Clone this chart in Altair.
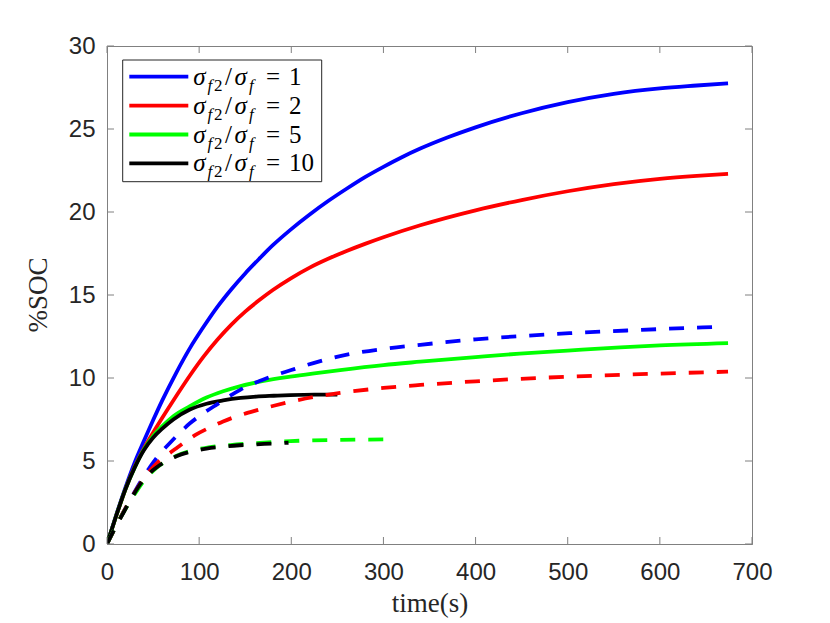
import altair as alt
import pandas as pd

# ---------------- data ----------------
RATIOS = ["1", "2", "5", "10"]
COLORS = ["#0000ff", "#ff0000", "#00ff00", "#000000"]

# solid curves
T_S1 = [0, 10, 20, 30, 40, 50, 60, 75, 90, 105, 120, 135, 150, 165, 180, 200, 220, 240, 260, 280, 300, 320, 340, 370, 400, 450, 500, 550, 600, 640, 674]
V_S1 = [0, 1.75, 3.4, 4.9, 6.2, 7.45, 8.65, 10.3, 11.8, 13.1, 14.3, 15.35, 16.3, 17.17, 18.0, 18.97, 19.85, 20.66, 21.4, 22.1, 22.72, 23.3, 23.82, 24.5, 25.1, 25.95, 26.62, 27.12, 27.45, 27.62, 27.75]

T_S2 = [0, 10, 20, 30, 40, 50, 60, 75, 90, 105, 120, 135, 150, 165, 180, 200, 220, 240, 260, 280, 300, 340, 400, 450, 500, 550, 600, 640, 674]
V_S2 = [0, 1.7, 3.3, 4.65, 5.75, 6.7, 7.6, 8.9, 10.15, 11.3, 12.32, 13.22, 14.0, 14.68, 15.3, 16.02, 16.65, 17.18, 17.65, 18.08, 18.48, 19.2, 20.1, 20.72, 21.25, 21.68, 22.0, 22.18, 22.3]

T_S5 = [0, 10, 20, 30, 40, 50, 60, 72, 90, 108, 126, 144, 170, 199, 225, 253, 300, 340, 400, 448, 500, 557, 600, 674]
V_S5 = [0, 1.7, 3.3, 4.6, 5.7, 6.5, 7.1, 7.7, 8.3, 8.82, 9.2, 9.5, 9.82, 10.08, 10.28, 10.48, 10.78, 10.98, 11.26, 11.47, 11.65, 11.84, 11.96, 12.1]

T_S10 = [0, 10, 20, 30, 40, 50, 60, 72, 90, 108, 126, 145, 162, 181, 199, 225, 250]
V_S10 = [0, 1.7, 3.3, 4.6, 5.65, 6.4, 6.95, 7.5, 8.1, 8.45, 8.65, 8.8, 8.88, 8.93, 8.97, 9.0, 9.0]

# dashed curves
T_D1 = [0, 10, 20, 29, 38, 47, 57, 68, 79, 90, 104, 119, 145, 174, 200, 224, 253, 300, 340, 400, 448, 502, 580, 667]
V_D1 = [0, 1.1, 2.15, 3.05, 3.9, 4.66, 5.4, 6.07, 6.7, 7.27, 7.85, 8.4, 9.3, 10.0, 10.48, 10.9, 11.32, 11.75, 12.0, 12.33, 12.52, 12.7, 12.9, 13.09]

T_D2 = [0, 10, 20, 30, 40, 47, 54, 65, 76, 86, 97, 111, 126, 137, 162, 181, 200, 224, 253, 300, 340, 400, 448, 502, 590, 674]
V_D2 = [0, 1.1, 2.15, 3.1, 3.95, 4.45, 4.86, 5.35, 5.8, 6.2, 6.6, 7.0, 7.38, 7.62, 8.05, 8.33, 8.58, 8.85, 9.1, 9.4, 9.58, 9.8, 9.95, 10.08, 10.25, 10.38]

T_D5 = [0, 10, 20, 30, 40, 50, 60, 75, 90, 110, 134, 160, 199, 250, 304]
V_D5 = [0, 1.1, 2.1, 3.0, 3.8, 4.4, 4.85, 5.3, 5.6, 5.82, 5.96, 6.07, 6.2, 6.27, 6.3]

T_D10 = [0, 10, 18, 27, 36, 45, 54, 65, 76, 90, 108, 126, 144, 162, 181, 197]
V_D10 = [0, 1.1, 1.9, 2.8, 3.6, 4.2, 4.62, 5.0, 5.3, 5.55, 5.75, 5.87, 5.95, 6.0, 6.06, 6.1]

X_TICKS = [0, 100, 200, 300, 400, 500, 600, 700]
Y_TICKS = [0, 5, 10, 15, 20, 25, 30]
X_TITLE = "time(s)"
Y_TITLE = "%SOC"

# ---------------- layout / style ----------------
W, H = 645, 498
AXIS_GRAY = "#808080"
TEXT_COL = "#262626"
LW = 3.8
DASH = [15, 13]
TICK_LEN = 7
SERIF = "Liberation Serif"

solids = [(T_S1, V_S1), (T_S2, V_S2), (T_S5, V_S5), (T_S10, V_S10)]
dashes = [(T_D1, V_D1), (T_D2, V_D2), (T_D5, V_D5), (T_D10, V_D10)]

rows = []
for style, group in (("solid", solids), ("dashed", dashes)):
    for r, (ts, vs) in zip(RATIOS, group):
        for t, v in zip(ts, vs):
            rows.append({"ratio": r, "style": style, "t": t, "v": v})
df = pd.DataFrame(rows)

x_axis = alt.Axis(
    values=X_TICKS, ticks=False, tickSize=0, grid=False,
    domainColor=AXIS_GRAY, domainWidth=1,
    labelFont="Liberation Sans", labelFontSize=24, labelColor=TEXT_COL,
    labelPadding=16, labelFlush=False, labelOverlap=False,
    title=X_TITLE, titleFont=SERIF, titleFontSize=27,
    titleFontWeight="normal", titleColor=TEXT_COL,
    titleBaseline="alphabetic", titleY=67,
)
y_axis = alt.Axis(
    values=Y_TICKS, ticks=False, tickSize=0, grid=False,
    domainColor=AXIS_GRAY, domainWidth=1,
    labelFont="Liberation Sans", labelFontSize=24, labelColor=TEXT_COL,
    labelPadding=12, labelFlush=False, labelOverlap=False,
    title=None,
)
xs = alt.Scale(domain=[0, 700], nice=False, zero=False)
ys = alt.Scale(domain=[0, 30], nice=False, zero=False)
X = alt.X("t:Q", scale=xs, axis=x_axis)
Y = alt.Y("v:Q", scale=ys, axis=y_axis)

base = alt.Chart(df)
layers = []
for style in ("solid", "dashed"):
    for r, c in zip(RATIOS, COLORS):
        mk = {"strokeWidth": LW, "color": c, "clip": True, "interpolate": "monotone"}
        if style == "dashed":
            mk["strokeDash"] = DASH
        layers.append(
            base.transform_filter(
                (alt.datum.ratio == r) & (alt.datum.style == style)
            ).mark_line(**mk).encode(x=X, y=Y, order="t:Q")
        )

# inward ticks on all four sides (MATLAB box style)
xt = alt.Chart(pd.DataFrame({"t": X_TICKS}))
yt = alt.Chart(pd.DataFrame({"v": Y_TICKS}))
tick_kw = {"color": AXIS_GRAY, "strokeWidth": 1}
layers += [
    xt.mark_rule(**tick_kw).encode(x=X, y=alt.value(H), y2=alt.value(H - TICK_LEN)),
    xt.mark_rule(**tick_kw).encode(x=X, y=alt.value(0), y2=alt.value(TICK_LEN)),
    yt.mark_rule(**tick_kw).encode(y=Y, x=alt.value(0), x2=alt.value(TICK_LEN)),
    yt.mark_rule(**tick_kw).encode(y=Y, x=alt.value(W), x2=alt.value(W - TICK_LEN)),
]

# y-axis title as a rotated serif text
one = alt.Chart(pd.DataFrame({"a": [0]}))
layers.append(
    one.mark_text(angle=270, align="center", baseline="middle",
                  font=SERIF, fontSize=27, color=TEXT_COL).encode(
        x=alt.value(-68), y=alt.value(H / 2), text=alt.value(Y_TITLE))
)

# legend (drawn by hand to allow the sub-scripts of the LaTeX labels)
LG_X0, LG_X1, LG_Y0, LG_Y1 = 15.7, 214.7, 14, 135.7
ROW0, ROW_STEP = 30.7, 28.9
leg = pd.DataFrame({
    "ratio": RATIOS,
    "color": COLORS,
    "ypix": [ROW0 + i * ROW_STEP for i in range(len(RATIOS))],
})
lg = alt.Chart(leg)
layers.append(
    one.mark_rect(fill="white", stroke=TEXT_COL, strokeWidth=1).encode(
        x=alt.value(LG_X0), x2=alt.value(LG_X1),
        y=alt.value(LG_Y0), y2=alt.value(LG_Y1))
)
layers.append(
    lg.mark_rule(strokeWidth=LW).encode(
        x=alt.value(22.3), x2=alt.value(81.3),
        y=alt.Y("ypix:Q", scale=None, axis=None),
        color=alt.Color("color:N", scale=None, legend=None),
    )
)
pieces = [
    ("σ", 86.3, 8, 25, "italic"),
    ("f", 100.5, 14, 17, "italic"),
    ("2", 107.0, 14, 17, "normal"),
    ("/", 118.0, 8, 25, "normal"),
    ("σ", 127.5, 8, 25, "italic"),
    ("f", 142.0, 14, 17, "italic"),
    ("=", 159.0, 8, 25, "normal"),
]
for txt, px, dy, fs, st in pieces:
    layers.append(
        lg.mark_text(align="left", baseline="alphabetic", dy=dy,
                     font=SERIF, fontSize=fs, fontStyle=st,
                     color="black").encode(
            x=alt.value(px), y=alt.Y("ypix:Q", scale=None, axis=None),
            text=alt.value(txt))
    )
layers.append(
    lg.mark_text(align="left", baseline="alphabetic", dy=8,
                 font=SERIF, fontSize=25, color="black").encode(
        x=alt.value(182.0), y=alt.Y("ypix:Q", scale=None, axis=None),
        text="ratio:N")
)

chart = alt.layer(*layers).properties(
    width=W, height=H,
    autosize=alt.AutoSizeParams(type="none"),
    padding={"left": 99, "top": 38, "right": 60, "bottom": 74},
    background="white",
).configure_view(
    stroke=AXIS_GRAY, strokeWidth=1
).configure_axis(
    titleFont=SERIF, labelFont="Liberation Sans"
)

chart.save("out.html", embed_options={"renderer": "svg", "actions": False})
